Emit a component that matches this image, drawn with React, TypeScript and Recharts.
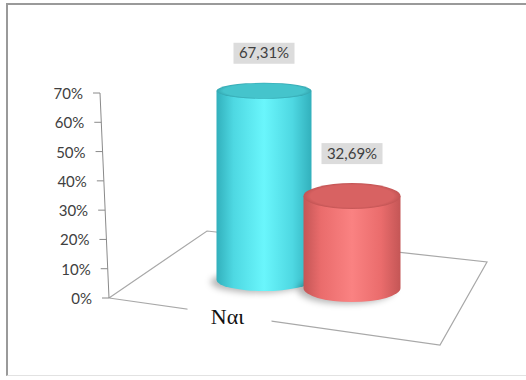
import React from 'react'
import { Bar, BarChart, LabelList, XAxis, YAxis } from 'recharts'

const categories = ['Ναι']
const cyanValues = [67.31]
const redValues = [32.69]
const yTicks = [0, 10, 20, 30, 40, 50, 60, 70]

const data = categories.map((name, i) => ({ name, cyan: cyanValues[i], red: redValues[i] }))

const W = 526
const H = 380
const PLOT_TOP = 93
const PLOT_BOTTOM = 298
const AXIS_X_TOP = 100
const AXIS_X_BOTTOM = 109
// perspective squash of cylinder heights compared to the axis
const HEIGHT_K = 0.96

const axisXAt = (y: number) =>
  AXIS_X_TOP + ((y - PLOT_TOP) / (PLOT_BOTTOM - PLOT_TOP)) * (AXIS_X_BOTTOM - AXIS_X_TOP)

type CylStyle = {
  id: string
  width: number
  drop: number
  ryTop: number
  ryBot: number
  edge: string
  mid: string
  light: string
  topFill: string
  topEdge: string
}

const CYAN: CylStyle = {
  id: 'cyl-cyan',
  width: 95,
  drop: 18,
  ryTop: 8,
  ryBot: 11,
  edge: '#32b0bc',
  mid: '#4ed8e2',
  light: '#6af6fc',
  topFill: '#45c4cc',
  topEdge: '#34a8b2',
}

const RED: CylStyle = {
  id: 'cyl-red',
  width: 97,
  drop: 10,
  ryTop: 13,
  ryBot: 14,
  edge: '#c45656',
  mid: '#ea6c6c',
  light: '#fa8282',
  topFill: '#d86262',
  topEdge: '#c25454',
}

const geom = (p: any, s: CylStyle) => {
  const x = p.x ?? p.viewBox?.x
  const y = p.y ?? p.viewBox?.y
  const width = p.width ?? p.viewBox?.width
  const height = p.height ?? p.viewBox?.height
  const cx = x + width / 2
  const base = y + height - s.drop
  const top = base - height * HEIGHT_K
  return { cx, rx: s.width / 2, base, top }
}

const Cylinder = (props: any, s: CylStyle) => {
  const { cx, rx, base, top } = geom(props, s)
  const xl = cx - rx
  const xr = cx + rx
  return (
    <g>
      <defs>
        <linearGradient id={`${s.id}-body`} x1="0" y1="0" x2="1" y2="0">
          <stop offset="0%" stopColor={s.edge} />
          <stop offset="18%" stopColor={s.mid} />
          <stop offset="50%" stopColor={s.light} />
          <stop offset="80%" stopColor={s.mid} />
          <stop offset="100%" stopColor={s.edge} />
        </linearGradient>
        <radialGradient id={`${s.id}-top`} cx="50%" cy="50%" r="50%">
          <stop offset="0%" stopColor={s.topFill} />
          <stop offset="85%" stopColor={s.topFill} />
          <stop offset="100%" stopColor={s.topEdge} />
        </radialGradient>
        <filter id={`${s.id}-blur`} x="-30%" y="-80%" width="160%" height="260%">
          <feGaussianBlur stdDeviation="3" />
        </filter>
      </defs>
      <ellipse
        cx={cx - 6}
        cy={base + 2}
        rx={rx}
        ry={s.ryBot}
        fill="rgba(0,0,0,0.28)"
        filter={`url(#${s.id}-blur)`}
      />
      <path
        d={`M${xl},${top} L${xl},${base} A${rx},${s.ryBot} 0 0 0 ${xr},${base} L${xr},${top} Z`}
        fill={`url(#${s.id}-body)`}
      />
      <ellipse cx={cx} cy={top} rx={rx} ry={s.ryTop} fill={`url(#${s.id}-top)`} />
    </g>
  )
}

const ValueLabel = (props: any, s: CylStyle) => {
  const { cx, top } = geom(props, s)
  const boxW = 61
  const boxH = 21
  const bottom = top - s.ryTop - 19
  const text = Number(props.value).toFixed(2).replace('.', ',') + '%'
  return (
    <g>
      <rect x={cx - boxW / 2} y={bottom - boxH} width={boxW} height={boxH} fill="#dcdcdc" />
      <text
        x={cx}
        y={bottom - boxH / 2 + 5}
        textAnchor="middle"
        fontFamily="Lato"
        fontSize={15}
        fill="#404040"
      >
        {text}
      </text>
    </g>
  )
}

const YTick = (props: any) => {
  const { y, payload } = props
  const ax = axisXAt(y)
  return (
    <g>
      <line x1={ax - 7} y1={y} x2={ax} y2={y} stroke="#8a8a8a" />
      <text x={ax - 17} y={y + 6} textAnchor="end" fontFamily="Lato" fontSize={15} fill="#404040">
        {payload.value}%
      </text>
    </g>
  )
}

const XTick = (props: any) => {
  const { x, y, payload } = props
  const lx = x - 80
  return (
    <g>
      <rect x={lx - 40} y={y - 4} width={84} height={26} fill="#ffffff" />
      <text x={lx} y={y + 18} textAnchor="middle" fontFamily="Liberation Serif" fontSize={22} fill="#111">
        {payload.value}
      </text>
    </g>
  )
}

// 3D floor corners
const floorFL = [AXIS_X_BOTTOM, PLOT_BOTTOM]
const floorBL = [207, 231]
const floorBR = [487, 262]
const floorFR = [440, 345]

export default function App() {
  return (
    <div style={{ position: 'absolute', left: 0, top: 0, width: W, height: H, overflow: 'hidden', background: '#fff' }}>
      <div
        style={{
          position: 'absolute',
          left: 6,
          top: 3,
          width: 560,
          height: 370,
          borderTop: '2px solid #9a9a9a',
          borderLeft: '2px solid #9a9a9a',
          borderBottom: '1px solid #e2e2e2',
        }}
      />
      <svg width={W} height={H} style={{ position: 'absolute', left: 0, top: 0 }}>
        <polyline
          points={[floorFL, floorBL, floorBR, floorFR, floorFL].map((p) => p.join(',')).join(' ')}
          fill="none"
          stroke="#a8a8a8"
          strokeWidth={1.2}
        />
        <line x1={AXIS_X_TOP} y1={PLOT_TOP} x2={AXIS_X_BOTTOM} y2={PLOT_BOTTOM} stroke="#8a8a8a" />
      </svg>
      <div style={{ position: 'absolute', left: 0, top: 0 }}>
        <BarChart
          width={W}
          height={H}
          data={data}
          margin={{ top: PLOT_TOP, right: 11, bottom: 52, left: 40 }}
          barSize={88}
          barGap={0}
          barCategoryGap={0}
        >
          <XAxis dataKey="name" height={30} axisLine={false} tickLine={false} tick={(p: any) => <XTick {...p} />} />
          <YAxis
            domain={[0, 70]}
            ticks={yTicks}
            interval={0}
            width={60}
            axisLine={false}
            tickLine={false}
            tick={(p: any) => <YTick {...p} />}
          />
          <Bar dataKey="cyan" isAnimationActive={false} shape={(p: any) => Cylinder(p, CYAN)}>
            <LabelList dataKey="cyan" content={(p: any) => ValueLabel(p, CYAN)} />
          </Bar>
          <Bar dataKey="red" isAnimationActive={false} shape={(p: any) => Cylinder(p, RED)}>
            <LabelList dataKey="red" content={(p: any) => ValueLabel(p, RED)} />
          </Bar>
        </BarChart>
      </div>
    </div>
  )
}
